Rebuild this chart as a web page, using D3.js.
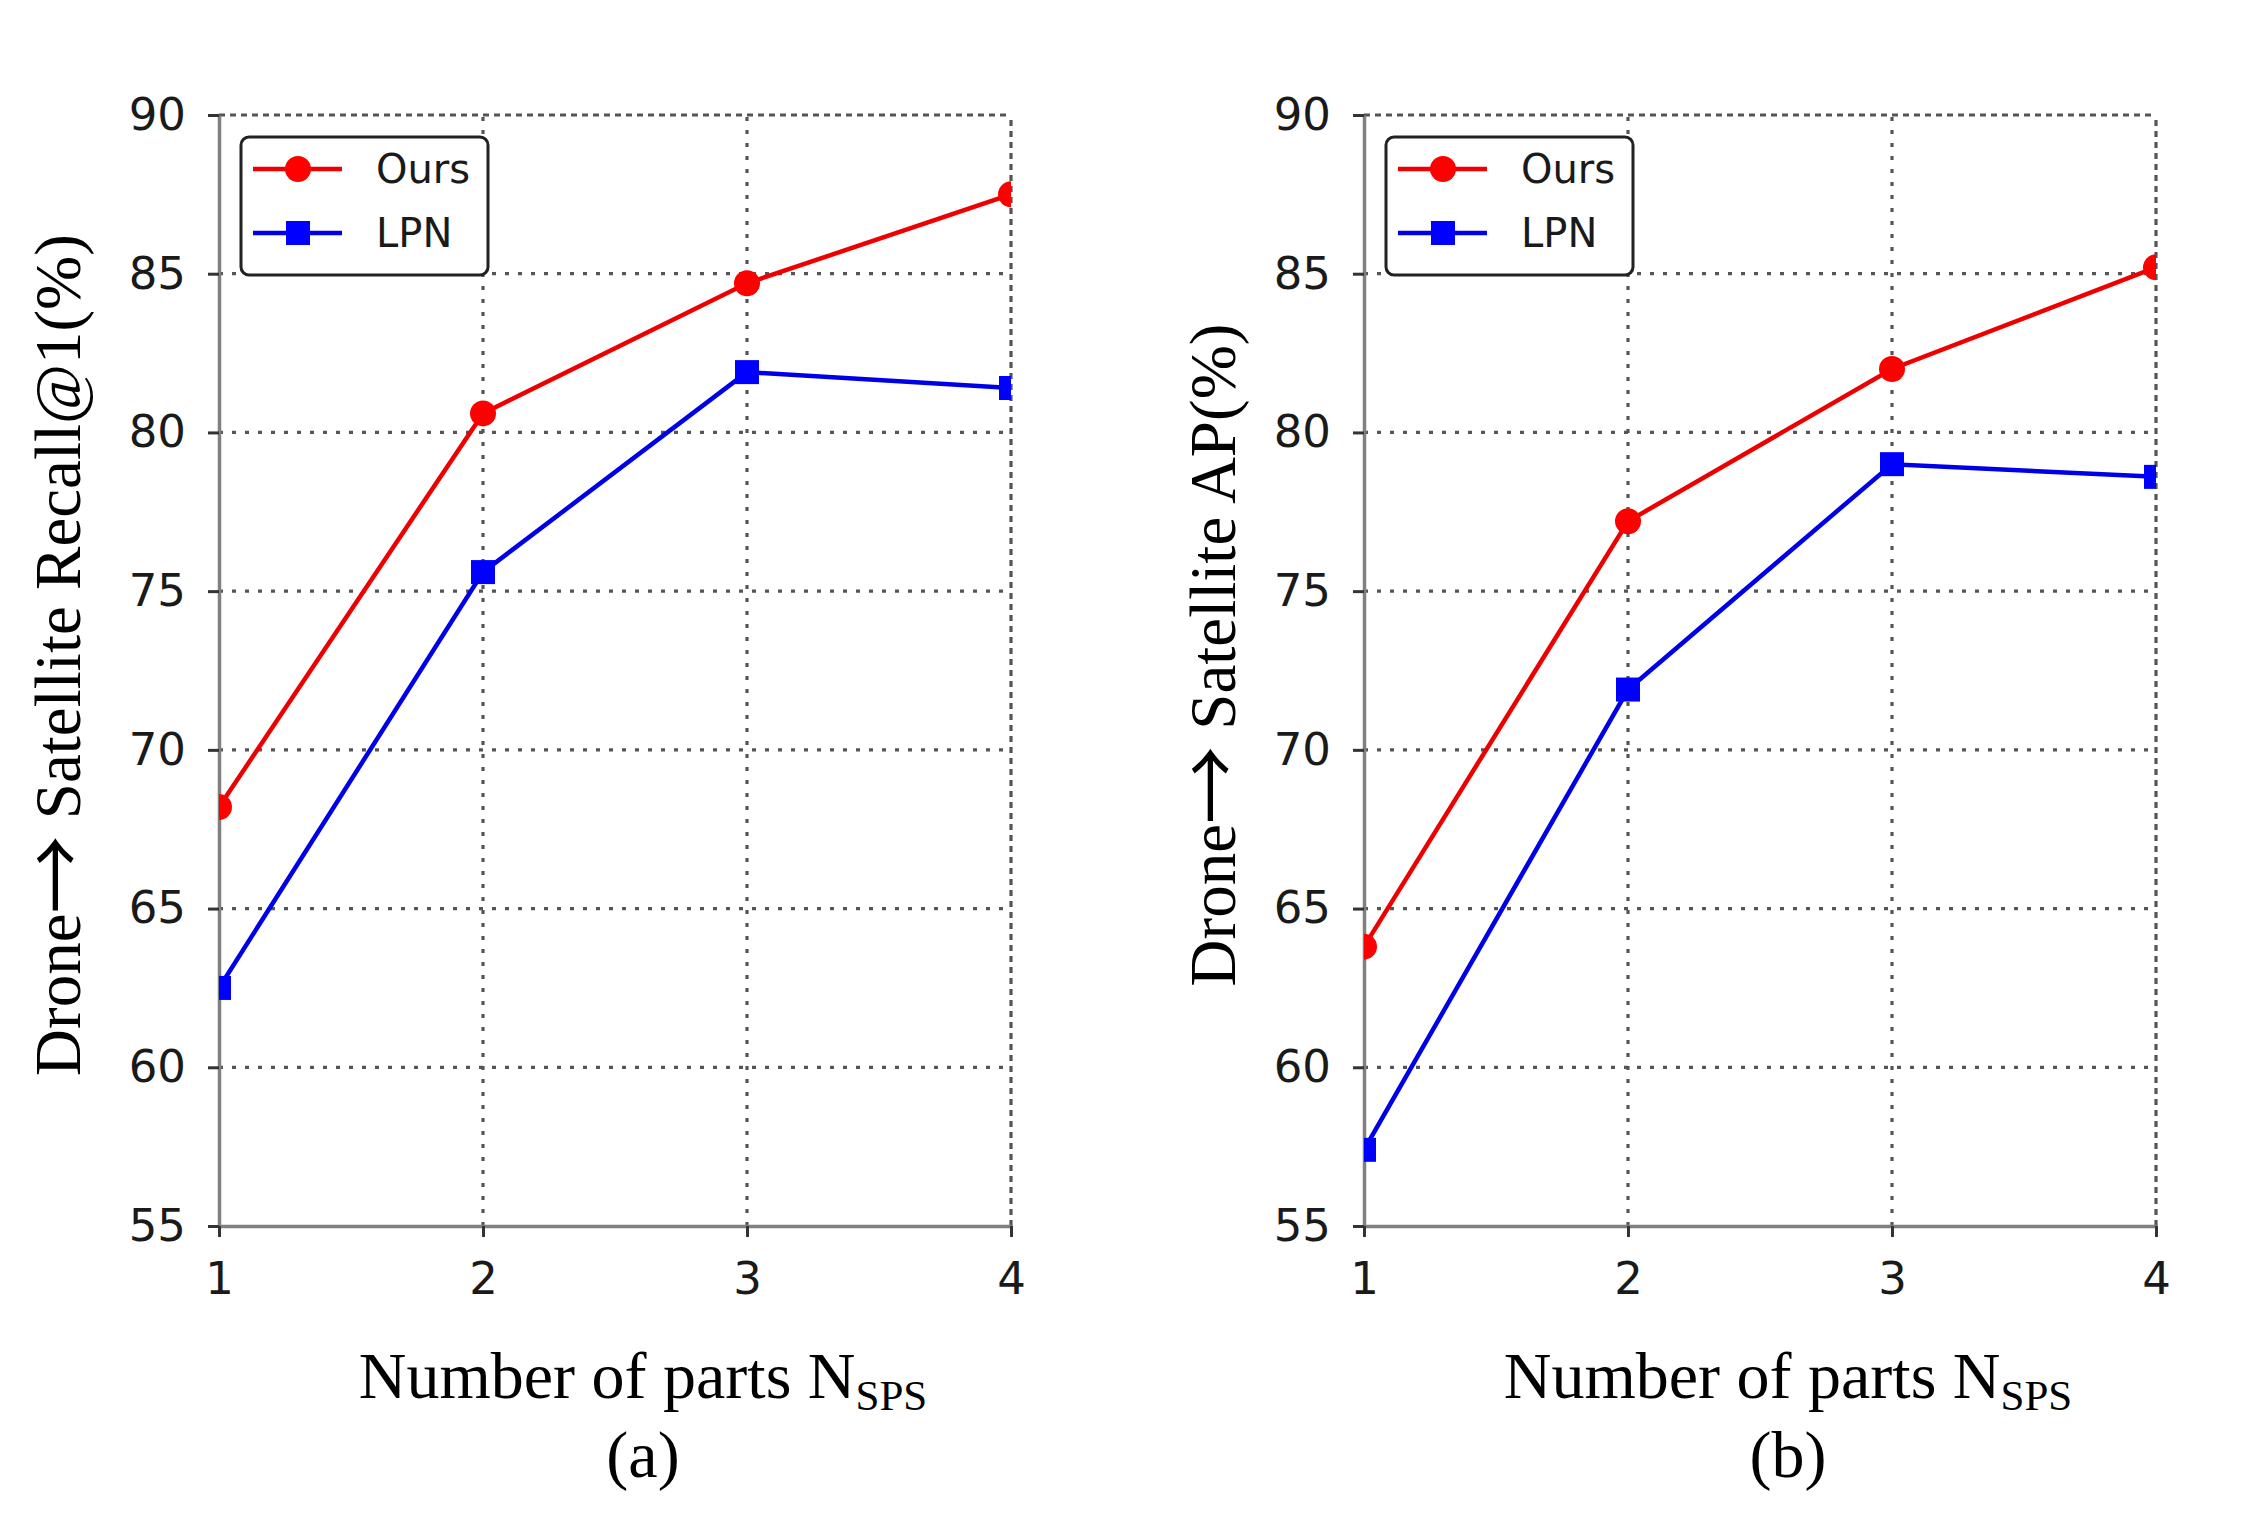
<!DOCTYPE html>
<html>
<head>
<meta charset="utf-8">
<script src="https://cdn.jsdelivr.net/npm/d3@7"></script>
<style>
  body { margin: 0; background: #fff; }
  svg { display: block; }
</style>
</head>
<body>
<script>
// values
const parts = [1, 2, 3, 4];
const recallOurs = [68.2, 80.6, 84.7, 87.5];
const recallLPN = [62.5, 75.6, 81.9, 81.4];
const apOurs = [63.8, 77.2, 82.0, 85.2];
const apLPN = [57.4, 71.9, 79.0, 78.6];
const yTicks = [55, 60, 65, 70, 75, 80, 85, 90];
const seriesNames = ["Ours", "LPN"];
const yLabelEnds = ["Satellite Recall@1(%)", "Satellite AP(%)"];
const panelTags = ["(a)", "(b)"];

const W = 2265, H = 1525;
const red = "#ff0000";
const blue = "#0000ff";
const tickFont = "'DejaVu Sans', Verdana, sans-serif";
const serif = "'Liberation Serif', 'Times New Roman', serif";

const svg = d3.select("body").append("svg")
  .attr("width", W)
  .attr("height", H);

const plotW = 792;
const plotTop = 115, plotBottom = 1226;

const panels = [
  { ours: recallOurs, lpn: recallLPN, left: 219, labelX: 80 },
  { ours: apOurs, lpn: apLPN, left: 1364, labelX: 1235 }
];

panels.forEach((p, i) => {
  const x = d3.scaleLinear().domain([1, 4]).range([p.left, p.left + plotW]);
  const y = d3.scaleLinear().domain([55, 90]).range([plotBottom, plotTop]);
  const g = svg.append("g");

  // grid
  g.append("g").selectAll("line")
    .data(yTicks.filter(d => d > 55))
    .enter().append("line")
    .attr("x1", x(1)).attr("x2", x(4))
    .attr("y1", d => y(d)).attr("y2", d => y(d))
    .attr("stroke", "#555")
    .attr("stroke-width", 3.2)
    .attr("stroke-dasharray", d => d == 90 ? "6,5" : "4,9");
  g.append("g").selectAll("line")
    .data(parts.filter(d => d > 1))
    .enter().append("line")
    .attr("x1", d => x(d)).attr("x2", d => x(d))
    .attr("y1", y(55)).attr("y2", y(90))
    .attr("stroke", "#555")
    .attr("stroke-width", 3.2)
    .attr("stroke-dasharray", d => d == 4 ? "6,5" : "4,9");

  // axes
  const yAxis = g.append("g")
    .attr("transform", `translate(${x(1)},0)`)
    .call(d3.axisLeft(y).tickValues(yTicks).tickSize(11).tickSizeOuter(0).tickPadding(22));
  const xAxis = g.append("g")
    .attr("transform", `translate(0,${y(55)})`)
    .call(d3.axisBottom(x).tickValues(parts).tickFormat(d3.format("d"))
      .tickSize(11).tickSizeOuter(0).tickPadding(25));
  [yAxis, xAxis].forEach(a => {
    a.select(".domain").attr("stroke", "#808080").attr("stroke-width", 3.5);
    a.selectAll(".tick line").attr("stroke", "#333").attr("stroke-width", 3);
    a.selectAll(".tick text")
      .attr("fill", "#1a1a1a")
      .style("font-family", tickFont)
      .style("font-size", "45px");
  });

  // lines + markers, clipped to the axes box
  const clipId = "clip" + i;
  svg.append("clipPath").attr("id", clipId)
    .append("rect")
    .attr("x", x(1)).attr("y", y(90))
    .attr("width", plotW).attr("height", y(55) - y(90));
  const plot = g.append("g").attr("clip-path", `url(#${clipId})`);
  const line = d3.line().x((d, j) => x(parts[j])).y(d => y(d));

  plot.append("path").datum(p.lpn)
    .attr("d", line).attr("fill", "none")
    .attr("stroke", "#0000e8").attr("stroke-width", 4.5);
  plot.append("g").selectAll("rect")
    .data(p.lpn).enter().append("rect")
    .attr("x", (d, j) => x(parts[j]) - 12)
    .attr("y", d => y(d) - 12)
    .attr("width", 24).attr("height", 24)
    .attr("fill", blue);

  plot.append("path").datum(p.ours)
    .attr("d", line).attr("fill", "none")
    .attr("stroke", "#ee0000").attr("stroke-width", 4.5);
  plot.append("g").selectAll("circle")
    .data(p.ours).enter().append("circle")
    .attr("cx", (d, j) => x(parts[j]))
    .attr("cy", d => y(d))
    .attr("r", 13)
    .attr("fill", red);

  // legend
  const lg = g.append("g").attr("transform", `translate(${x(1) + 22},${y(90) + 22})`);
  lg.append("rect")
    .attr("width", 247).attr("height", 138)
    .attr("rx", 8)
    .attr("fill", "#fff")
    .attr("stroke", "#222")
    .attr("stroke-width", 3);
  seriesNames.forEach((name, k) => {
    const ry = 32 + k * 64;
    const col = k == 0 ? red : blue;
    lg.append("line")
      .attr("x1", 12).attr("x2", 101)
      .attr("y1", ry).attr("y2", ry)
      .attr("stroke", k == 0 ? "#ee0000" : "#0000e8")
      .attr("stroke-width", 4.5);
    if (k == 0) {
      lg.append("circle").attr("cx", 57).attr("cy", ry).attr("r", 13).attr("fill", col);
    } else {
      lg.append("rect").attr("x", 45).attr("y", ry - 12).attr("width", 24).attr("height", 24).attr("fill", col);
    }
    lg.append("text")
      .attr("x", 135).attr("y", ry)
      .attr("dominant-baseline", "central")
      .attr("fill", "#1a1a1a")
      .style("font-family", tickFont)
      .style("font-size", "40px")
      .text(name);
  });

  // y label, big arrow from a CJK font
  const yl = svg.append("text")
    .attr("transform", `translate(${p.labelX},655) rotate(-90)`)
    .attr("text-anchor", "middle")
    .style("font-family", serif)
    .style("font-size", "65px");
  yl.append("tspan").text("Drone");
  yl.append("tspan")
    .attr("dy", 5)
    .style("font-family", "'Noto Sans CJK SC', 'DejaVu Sans', sans-serif")
    .style("font-size", "78px")
    .text("\u2192");
  yl.append("tspan").attr("dy", -5).text(" " + yLabelEnds[i]);

  // x label with subscript
  const cx = (x(1) + x(4)) / 2 + 28;
  const xl = svg.append("text")
    .attr("x", cx).attr("y", 1398)
    .attr("text-anchor", "middle")
    .style("font-family", serif)
    .style("font-size", "66px");
  xl.append("tspan").text("Number of parts N");
  xl.append("tspan").attr("dy", 12).style("font-size", "43px").text("SPS");

  svg.append("text")
    .attr("x", cx).attr("y", 1477)
    .attr("text-anchor", "middle")
    .style("font-family", serif)
    .style("font-size", "66px")
    .text(panelTags[i]);
});
</script>
</body>
</html>
